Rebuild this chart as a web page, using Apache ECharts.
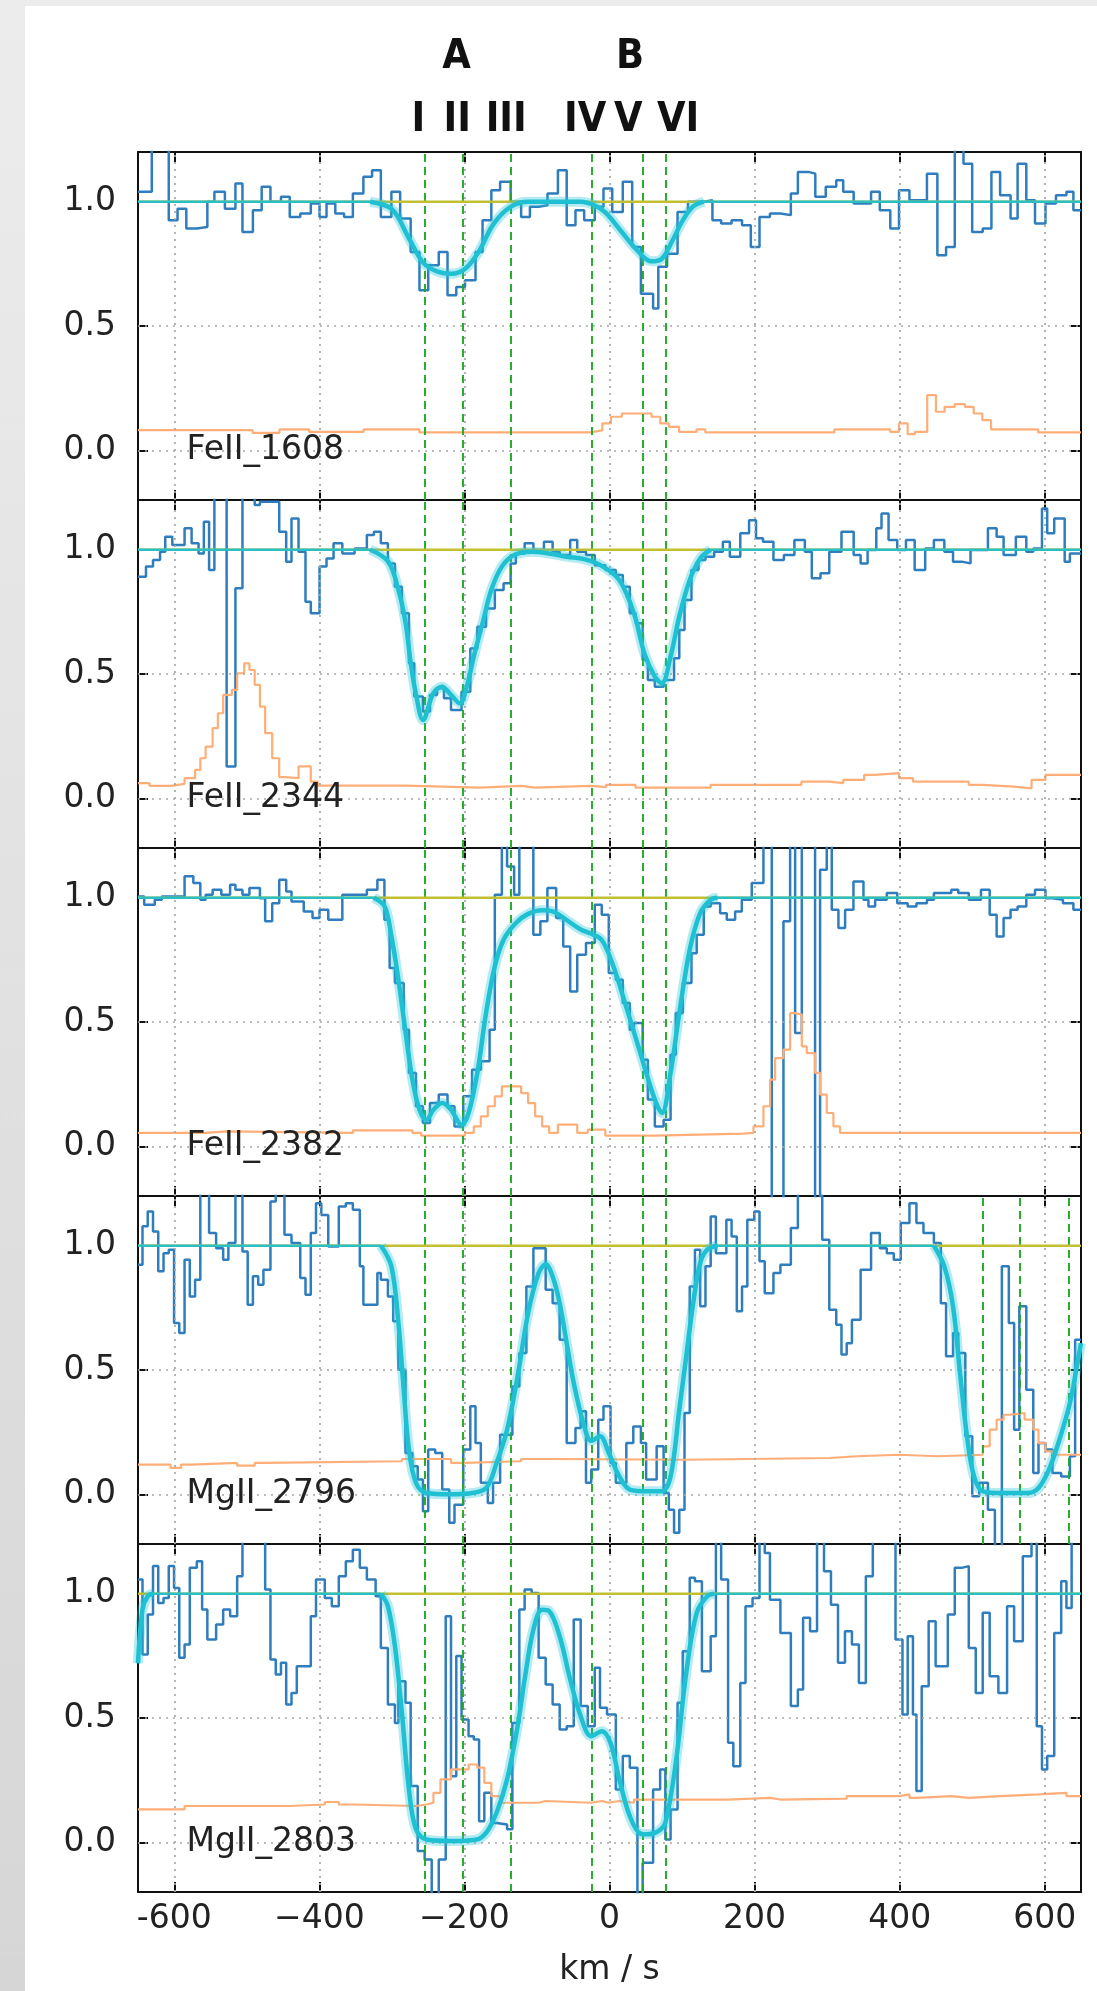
<!DOCTYPE html>
<html>
<head>
<meta charset="utf-8">
<script src="https://cdn.jsdelivr.net/npm/echarts@6/dist/echarts.min.js"></script>
<style>
html,body{margin:0;padding:0;width:1097px;height:1991px;overflow:hidden;background:linear-gradient(#ececec,#d6d6d6);}
#card{position:absolute;left:25px;top:6px;width:1072px;height:1985px;background:#ffffff;}
#chart{position:absolute;left:0;top:0;width:1097px;height:1991px;}
</style>
</head>
<body>
<div id="card"></div>
<div id="chart"></div>
<script>
// ---------------- axes / annotations ----------------
const velMin = -650, velMax = 650;
const fluxMin = -0.2, fluxMax = 1.2;
const xTickValues = [-600, -400, -200, 0, 200, 400, 600];
const xTickLabels = ['-600', '\u2212400', '\u2212200', '0', '200', '400', '600'];
const yTickValues = [0, 0.5, 1.0];
const componentVel = [-255, -202, -136, -24, 46, 77];
const mg2796ExtraVel = [514, 566, 633];
const groupNames = ['A', 'B'];
const groupVel = [-211, 28.5];
const romanNames = ['I', 'II', 'III', 'IV', 'V', 'VI'];
const romanVel = [-263.6, -209.9, -142.4, -33.5, 25.8, 94.7];
const panelNames = ['FeII_1608', 'FeII_2344', 'FeII_2382', 'MgII_2796', 'MgII_2803'];
const panelNameVel = -583;
const continuum = [[-650, 1.0], [650, 1.0]];

// ---------------- FeII 1608 ----------------
const fe1608Flux = [[-650,1.04],[-631,1.4],[-607.6,0.925],[-595.5,0.972],[-583.4,0.892],[-568.9,0.898],[-554.4,1.0],[-544.7,1.04],[-530.2,0.972],[-515.7,1.073],[-506,0.878],[-491.6,0.966],[-479.5,1.06],[-467.4,1.0],[-452.9,1.02],[-440.8,0.939],[-426.3,0.953],[-411.8,0.993],[-399.7,0.939],[-390.1,0.993],[-378,0.953],[-365.9,0.939],[-353.8,1.033],[-339.3,1.1],[-327.3,1.127],[-315.2,0.939],[-300.7,1.04],[-288.6,0.932],[-274.1,0.798],[-262,0.644],[-249.9,0.744],[-235.4,0.798],[-223.3,0.624],[-211.2,0.657],[-199.2,0.684],[-184.7,0.798],[-175,0.925],[-162.9,1.046],[-150.8,1.08],[-136.3,1.0],[-121.8,0.939],[-109.7,0.98],[-97.7,0.986],[-85.5,1.033],[-71.1,1.127],[-59,0.905],[-46.9,0.966],[-34.9,0.925],[-20.3,0.98],[-8.3,1.053],[3.8,0.959],[18.3,1.08],[31.3,0.818],[43.3,0.63],[60.1,0.57],[67.3,0.738],[79.4,0.791],[93.8,0.959],[108.2,1.0],[129.9,1.006],[141.9,0.925],[153.9,0.912],[168.3,0.925],[182.7,0.905],[194.8,0.818],[206.8,0.939],[221.2,0.953],[235.6,0.946],[250,1.033],[259.7,1.12],[274.1,1.113],[283.7,1.02],[298.1,1.06],[312.6,1.086],[322.2,1.04],[336.6,0.993],[360.6,1.04],[372.6,0.966],[387.1,0.892],[399.1,1.046],[413.5,1.006],[437.6,1.113],[452,0.785],[464,0.818],[476,1.4],[488,1.153],[500,0.878],[514.5,0.892],[526.5,1.12],[538.5,1.026],[552.9,0.932],[562.6,1.153],[574.6,1.006],[586.6,0.912],[601,0.993],[615.5,1.026],[629.9,1.04],[639.5,0.966],[650,0.966]];
const fe1608Err = [[-650,0.081],[-492,0.07],[-455,0.084],[-414,0.074],[-339,0.084],[-262,0.072],[-27,0.08],[-10,0.108],[2,0.135],[17,0.148],[58,0.135],[70,0.108],[82,0.094],[96,0.074],[120,0.084],[132,0.072],[310,0.084],[387,0.074],[399,0.108],[411,0.065],[421,0.074],[438,0.222],[450,0.155],[462,0.175],[476,0.186],[490,0.175],[502,0.148],[514,0.121],[526,0.084],[591,0.072],[650,0.072]];
const fe1608Model = [[-330,1.0],[-300,0.97],[-276,0.85],[-257,0.755],[-238,0.72],[-218,0.71],[-199,0.73],[-180,0.80],[-160,0.91],[-136,0.98],[-112,1.0],[-40,1.0],[-20,0.985],[-5,0.955],[15,0.885],[38,0.805],[58,0.76],[72,0.77],[87,0.845],[101,0.925],[115,0.98],[130,1.0]];
const fe1608Flat = [[-650,1.0],[-330,1.0],null,[130,1.0],[650,1.0]];

// ---------------- FeII 2344 ----------------
const fe2344Flux = [[-650,0.891],[-639,0.932],[-629.3,0.959],[-619.6,0.992],[-612.4,1.052],[-602.7,1.019],[-585.8,1.086],[-576.1,1.026],[-566.5,0.985],[-559.2,1.113],[-552,0.918],[-544.7,1.4],[-527.8,0.128],[-515.7,0.845],[-506,1.4],[-489.1,1.18],[-481.9,1.193],[-455.3,1.072],[-445.7,0.952],[-438.4,1.126],[-428.7,0.992],[-419.1,0.791],[-411.8,0.744],[-399.7,0.932],[-390.1,0.965],[-380.4,1.026],[-368.3,0.985],[-351.4,1.005],[-334.5,1.059],[-324.8,1.072],[-315.2,1.026],[-305.5,0.945],[-295.8,0.851],[-286.2,0.744],[-276.5,0.543],[-269.2,0.409],[-257.2,0.349],[-247.5,0.416],[-237.8,0.443],[-228.2,0.402],[-218.5,0.355],[-204,0.429],[-191.9,0.603],[-182.2,0.69],[-170.2,0.764],[-158.1,0.838],[-146,0.865],[-136.3,0.945],[-129.1,0.985],[-117,1.026],[-104.9,0.999],[-90.4,1.032],[-78.4,0.992],[-68.7,0.979],[-54.2,1.039],[-44.5,0.992],[-32.4,0.979],[-20.3,0.938],[-5.8,0.918],[8.7,0.898],[18.3,0.851],[28,0.744],[36.1,0.704],[45.7,0.556],[52.9,0.476],[62.5,0.449],[74.6,0.476],[89,0.563],[96.2,0.677],[103.4,0.798],[113,0.918],[122.6,0.959],[132.3,0.972],[144.3,0.992],[156.3,1.032],[165.9,0.972],[180.3,1.066],[192.4,1.119],[202,1.046],[211.6,1.032],[226,0.959],[240.4,0.979],[254.9,1.039],[269.3,0.992],[278.9,0.885],[290.9,0.905],[303,0.992],[319.8,1.072],[336.6,0.979],[346.2,0.945],[355.8,0.999],[367.8,1.086],[375,1.146],[384.7,1.039],[396.7,0.999],[408.7,1.039],[420.7,0.918],[435.2,1.005],[447.2,1.039],[461.6,0.992],[473.6,0.952],[485.6,0.945],[497.7,0.999],[521.7,1.086],[533.7,1.052],[543.3,0.979],[560.2,1.052],[574.6,0.992],[584.2,1.005],[596.2,1.166],[603.4,1.066],[613.1,1.126],[627.5,0.952],[634.7,0.985],[650,0.985]];
const fe2344Err = [[-650,0.061],[-634.1,0.05],[-605.1,0.058],[-585.8,0.081],[-571.3,0.114],[-564.1,0.161],[-556.8,0.208],[-547.1,0.282],[-539.9,0.342],[-532.6,0.416],[-520.6,0.436],[-513.3,0.503],[-503.6,0.543],[-496.4,0.516],[-489.1,0.456],[-481.9,0.369],[-474.7,0.262],[-465,0.161],[-455.3,0.085],[-448.1,0.081],[-428.7,0.128],[-411.8,0.067],[-402.2,0.051],[-281.3,0.043],[-179.8,0.05],[-121.8,0.043],[-102.5,0.05],[-25.2,0.045],[-4.8,0.054],[35.7,0.043],[139.5,0.054],[264.5,0.067],[303,0.061],[322.2,0.074],[351,0.094],[365.4,0.101],[399.1,0.081],[418.3,0.067],[495.3,0.054],[514.5,0.047],[557.8,0.04],[581.8,0.074],[601,0.094],[650,0.094]];
const fe2344Model = [[-330,1.0],[-305,0.952],[-291,0.838],[-281,0.704],[-274,0.543],[-267,0.422],[-257,0.315],[-243,0.422],[-231,0.449],[-218.5,0.416],[-206.4,0.382],[-196.8,0.449],[-187.1,0.57],[-175,0.704],[-163,0.838],[-148.4,0.932],[-131.5,0.979],[-107.3,0.992],[-83,0.985],[-59,0.972],[-34.9,0.962],[-10.7,0.935],[13.5,0.878],[33.7,0.744],[48.1,0.583],[62.5,0.489],[72.2,0.463],[84.2,0.57],[96.2,0.731],[110.6,0.878],[125,0.965],[139.5,1.0]];
const fe2344Flat = [[-650,1.0],[-330,1.0],null,[139.5,1.0],[650,1.0]];

// ---------------- FeII 2382 ----------------
const fe2382Flux = [[-650,1.005],[-641.4,0.972],[-626.9,0.992],[-617.2,1.005],[-585.8,1.086],[-573.7,1.059],[-564.1,0.992],[-556.8,1.012],[-547.1,1.032],[-535.1,1.012],[-523,1.052],[-515.7,1.032],[-506,1.012],[-496.4,1.039],[-481.9,0.998],[-474.7,0.905],[-465,0.978],[-455.3,1.072],[-445.7,1.025],[-438.4,0.985],[-421.5,0.945],[-409.4,0.918],[-399.7,0.952],[-387.7,0.911],[-368.3,1.012],[-334.5,1.032],[-320,1.072],[-310.3,0.911],[-303.1,0.717],[-295.8,0.657],[-283.7,0.469],[-276.5,0.295],[-266.8,0.161],[-257.2,0.094],[-247.5,0.174],[-235.4,0.208],[-223.3,0.161],[-213.7,0.08],[-201.6,0.201],[-189.5,0.308],[-177.4,0.342],[-165.3,0.469],[-158.1,1.012],[-148.4,1.4],[-141.2,1.126],[-131.5,1.012],[-124.3,1.4],[-105,0.851],[-95.3,0.905],[-85.6,1.039],[-73.5,0.918],[-63.8,0.804],[-54.2,0.623],[-44.5,0.771],[-32.4,0.818],[-20.3,0.972],[-10.7,0.931],[-1,0.697],[8.7,0.67],[18.3,0.576],[28,0.469],[33.7,0.496],[45.7,0.348],[52.9,0.188],[62.5,0.08],[74.6,0.107],[84.2,0.368],[91.4,0.536],[101,0.657],[113,0.777],[120.2,0.851],[129.9,0.965],[139.5,0.978],[152.5,0.938],[161.7,0.911],[173.2,0.945],[182.4,0.992],[196.1,1.059],[212.2,1.5],[223.7,-0.5],[239.8,0.905],[249,1.5],[255.9,0.456],[265.1,1.5],[283.4,-0.5],[290.3,1.112],[299.5,1.5],[306.4,0.952],[315.6,0.878],[324.8,0.952],[336.3,1.065],[350.1,0.992],[357,0.965],[366.2,0.992],[382.3,1.019],[396.7,0.978],[411.1,0.965],[423.1,0.978],[437.6,0.992],[447.2,1.019],[471.2,1.032],[480.8,1.019],[495.3,0.992],[512.1,1.032],[524.1,0.931],[533.7,0.844],[543.3,0.918],[552.9,0.952],[562.6,0.965],[574.6,1.012],[586.6,1.032],[601,0.998],[610.7,0.992],[625.1,0.978],[639.5,0.952],[650,0.952]];
const fe2382Err = [[-650,0.054],[-556.8,0.06],[-527.8,0.054],[-353.8,0.064],[-271.7,0.054],[-259.6,0.043],[-199.2,0.054],[-187.1,0.08],[-177.4,0.12],[-167.8,0.161],[-158.1,0.201],[-148.4,0.241],[-121.8,0.214],[-112.2,0.174],[-102.5,0.12],[-92.9,0.08],[-83.2,0.054],[-71.1,0.087],[-44.5,0.054],[-30,0.067],[-5.8,0.043],[62.5,0.051],[184.7,0.054],[198.5,0.08],[212.2,0.161],[221.4,0.268],[228.3,0.355],[239.8,0.389],[249,0.536],[255.9,0.53],[265.1,0.402],[272,0.375],[283.4,0.295],[290.3,0.208],[299.5,0.134],[308.7,0.08],[317.8,0.054],[650,0.054]];
const fe2382Model = [[-325,1.0],[-310,0.965],[-300.6,0.844],[-291,0.67],[-281,0.456],[-271.7,0.268],[-262,0.147],[-252.3,0.107],[-242.7,0.147],[-230.6,0.174],[-218.5,0.147],[-204,0.087],[-194.3,0.134],[-182.2,0.295],[-170.2,0.536],[-158.1,0.724],[-146,0.831],[-129.1,0.898],[-112.2,0.935],[-92.9,0.95],[-78.4,0.945],[-59,0.91],[-39.7,0.872],[-25.1,0.855],[-10.7,0.83],[3.8,0.737],[23.2,0.56],[42.5,0.375],[62.5,0.188],[72.2,0.134],[84.2,0.295],[96.2,0.536],[110.6,0.791],[125,0.938],[139.5,0.992],[149,1.0]];
const fe2382Flat = [[-650,1.0],[-325,1.0],null,[149,1.0],[650,1.0]];

// ---------------- MgII 2796 ----------------
const mg2796Flux = [[-650,0.923],[-643.8,1.078],[-636.6,1.138],[-629.3,1.057],[-622.1,0.897],[-614.8,0.97],[-607.6,0.984],[-600.3,0.689],[-593.1,0.649],[-585.8,0.944],[-578.6,0.796],[-571.3,0.863],[-564.1,1.4],[-552,1.051],[-542.3,0.99],[-532.6,0.944],[-525.4,1.011],[-515.7,1.4],[-506,0.977],[-498.8,0.763],[-491.6,0.877],[-484.3,0.843],[-477.1,0.903],[-467.4,1.178],[-460.1,1.4],[-448.1,1.044],[-438.4,1.011],[-426.3,0.87],[-419.1,0.803],[-411.8,1.051],[-404.6,1.171],[-397.3,1.124],[-387.7,0.997],[-373.2,1.158],[-363.5,1.171],[-353.8,1.145],[-344.2,0.917],[-339.3,0.763],[-320,0.89],[-315.2,0.863],[-305.5,0.796],[-298.2,0.696],[-291,0.501],[-281.3,0.166],[-271.7,0.113],[-264.4,0.059],[-257.2,-0.068],[-249.9,0.18],[-240.3,0.166],[-230.6,0.019],[-220.9,-0.115],[-213.7,-0.042],[-201.6,0.18],[-191.9,0.354],[-184.7,0.206],[-177.4,0.046],[-167.8,-0.035],[-160.5,0.046],[-150.8,0.24],[-133.9,0.434],[-124.3,0.568],[-114.6,0.836],[-104.9,0.99],[-88,0.823],[-78.4,0.769],[-68.7,0.622],[-59,0.206],[-46.9,0.267],[-39.7,0.334],[-32.4,0.046],[-25.2,0.1],[-15.5,0.3],[-8.3,0.354],[1.4,0.126],[8.7,0.046],[23.2,0.206],[32.8,0.273],[43.3,0.206],[50.5,0.059],[65,0.193],[74.6,0.005],[81.8,-0.062],[89,-0.155],[96.2,-0.062],[103.4,0.327],[110.6,0.836],[117.8,0.984],[125,0.756],[132.3,0.917],[139.5,1.118],[146.7,0.97],[161.1,1.104],[168.3,1.037],[175.5,0.736],[182.7,0.836],[190,1.104],[199.6,1.138],[206.8,0.937],[214,0.809],[226,0.89],[235.6,0.923],[250,1.071],[259.7,1.4],[293.3,1.024],[303,0.742],[312.6,0.682],[319.8,0.562],[327,0.608],[334.2,0.702],[346.2,0.903],[360.6,1.051],[372.6,0.99],[382.3,0.97],[391.9,0.944],[401.5,1.091],[413.5,1.171],[423.1,1.091],[432.8,1.051],[447.2,1.011],[456.8,0.769],[464,0.555],[473.6,0.649],[480.8,0.568],[490.5,0.233],[500.1,-0.008],[509.7,0.046],[521.7,-0.062],[531.3,-0.4],[540.9,0.917],[550.5,0.689],[557.8,0.26],[565,0.756],[574.6,0.421],[584.2,0.086],[591.4,0.206],[601,0.18],[610.6,0.086],[622.7,0.072],[634.7,0.153],[641.9,0.622],[650,0.622]];
const mg2796Err = [[-650,0.119],[-605.1,0.106],[-590.6,0.119],[-576.1,0.126],[-513.3,0.115],[-489.1,0.126],[-474.7,0.133],[-286.2,0.142],[-218.5,0.126],[-199.2,0.133],[-121.8,0.142],[-81.7,0.139],[105.8,0.146],[303,0.153],[341.4,0.159],[399.1,0.153],[452,0.159],[514.5,0.193],[524.1,0.26],[533.7,0.3],[543.3,0.32],[552.9,0.327],[572.2,0.3],[584.2,0.26],[591.4,0.206],[601,0.173],[610.6,0.159],[650,0.159]];
const mg2796Model = [[-315,1.0],[-300.7,0.917],[-291,0.689],[-283.7,0.421],[-276.5,0.18],[-266.8,0.046],[-252.3,0.005],[-218.5,0.0],[-194.3,0.003],[-170.2,0.025],[-155.7,0.126],[-141.2,0.26],[-126.7,0.474],[-112.2,0.729],[-97.7,0.89],[-88,0.925],[-78.4,0.876],[-68.7,0.769],[-59,0.608],[-49.3,0.448],[-34.9,0.273],[-25.2,0.215],[-13.1,0.233],[-1,0.166],[13.5,0.072],[28,0.019],[52.9,0.012],[72.2,0.012],[84.2,0.072],[96.2,0.34],[105.8,0.555],[115.4,0.769],[125,0.93],[134.7,0.984],[149,1.0],null,[447.2,1.0],[461.6,0.917],[473.6,0.756],[483.2,0.488],[492.8,0.233],[502.5,0.072],[514.5,0.012],[543.3,0.005],[577,0.005],[591.4,0.025],[605.8,0.099],[620.3,0.22],[634.7,0.367],[644.3,0.515],[650,0.608]];
const mg2796Flat = [[-650,1.0],[-315,1.0],null,[149,1.0],[447.2,1.0]];

// ---------------- MgII 2803 ----------------
const mg2803Flux = [[-650,1.057],[-643.8,0.755],[-636.6,0.916],[-629.3,1.111],[-622.1,0.963],[-614.8,0.983],[-607.6,1.111],[-600.3,1.023],[-593.1,0.742],[-585.8,0.796],[-578.6,1.104],[-568.9,1.131],[-561.6,0.936],[-554.4,0.816],[-542.3,0.876],[-532.6,0.936],[-523,0.909],[-513.3,1.07],[-506,1.4],[-474.7,1.017],[-467.4,0.735],[-460.1,0.675],[-452.9,0.722],[-445.7,0.554],[-438.4,0.601],[-431.1,0.708],[-411.8,0.909],[-404.6,1.057],[-392.5,0.983],[-382.8,0.95],[-373.2,1.07],[-363.5,1.131],[-353.8,1.177],[-344.2,1.104],[-334.5,1.057],[-322.4,0.99],[-315.2,0.782],[-305.5,0.554],[-295.8,0.48],[-291,0.648],[-281.3,0.561],[-274.1,0.226],[-264.4,-0.035],[-254.8,-0.069],[-245.1,-0.4],[-235.4,-0.069],[-225.8,0.909],[-218.5,0.266],[-211.2,0.749],[-204,0.494],[-194.3,0.427],[-187.1,0.414],[-179.8,0.085],[-172.6,0.199],[-162.9,0.078],[-155.7,0.072],[-141.2,0.052],[-133.9,0.48],[-124.3,0.936],[-117,1.017],[-107.3,1.003],[-97.7,0.742],[-88,0.635],[-78.4,0.554],[-68.7,0.454],[-59,0.467],[-49.3,0.896],[-39.7,0.548],[-30,0.467],[-20.3,0.702],[-13.1,0.541],[-3.4,0.514],[8.7,0.212],[18.3,0.347],[28,0.3],[38.5,-0.4],[45.7,-0.082],[60.1,0.212],[69.8,0.293],[77,0.011],[84.2,0.132],[93.8,0.561],[101,0.769],[110.6,1.064],[117.8,1.05],[127.4,0.688],[139.5,0.829],[146.7,1.4],[153.9,1.057],[163.5,0.4],[170.7,0.306],[180.3,0.641],[187.5,0.95],[197.2,0.983],[206.8,1.4],[214,1.164],[221.2,0.976],[235.6,0.842],[250,0.548],[259.7,0.615],[266.9,0.903],[276.5,0.849],[286.1,1.4],[295.7,1.09],[305.3,0.956],[315,0.722],[324.6,0.849],[334.2,0.796],[343.8,0.641],[353.4,1.07],[363,1.4],[394.3,0.816],[403.9,0.514],[411.1,0.829],[418.3,0.514],[423.1,0.206],[430.4,0.628],[440,0.889],[449.6,0.708],[466.4,0.916],[476,1.104],[485.6,1.111],[495.3,0.782],[504.9,0.601],[514.5,0.923],[524.1,0.668],[536.1,0.601],[548.1,0.95],[557.8,0.809],[569.8,1.151],[581.8,1.4],[589,0.467],[596.2,0.293],[603.4,0.347],[613.1,0.842],[622.7,1.05],[629.9,0.943],[637.1,1.4],[650,1.4]];
const mg2803Err = [[-650,0.132],[-585.8,0.146],[-440.8,0.152],[-392.5,0.162],[-373.2,0.152],[-353.8,0.146],[-266.8,0.152],[-252.3,0.159],[-242.7,0.199],[-233,0.253],[-218.5,0.293],[-194.3,0.313],[-182.2,0.3],[-172.6,0.239],[-162.9,0.186],[-150.8,0.159],[-97.7,0.166],[-88,0.159],[-25.2,0.166],[-10.7,0.159],[-1,0.166],[13.5,0.159],[33.7,0.172],[163.5,0.179],[221.2,0.172],[235.6,0.176],[327,0.186],[399.1,0.193],[413.5,0.179],[423.1,0.186],[471.2,0.179],[495.3,0.186],[538.5,0.193],[591.4,0.199],[629.9,0.186],[650,0.186]];
const mg2803Model = [[-650,0.72],[-643.8,0.936],[-636.6,0.99],[-629,1.0],null,[-315,1.0],[-305.5,0.95],[-295.8,0.789],[-286.2,0.521],[-276.5,0.212],[-266.8,0.052],[-252.3,0.011],[-218.5,0.005],[-184.7,0.01],[-170.2,0.038],[-155.7,0.119],[-141.2,0.253],[-126.7,0.467],[-117,0.655],[-104.9,0.856],[-92.9,0.935],[-83.2,0.93],[-68.7,0.829],[-54.2,0.655],[-39.7,0.507],[-25.2,0.427],[-10.7,0.447],[1.4,0.4],[13.5,0.253],[28,0.105],[42.5,0.035],[52.9,0.032],[67.3,0.045],[77,0.079],[91.4,0.32],[105.8,0.682],[120.2,0.923],[134.7,0.99],[144.3,1.0]];
const mg2803Flat = [[-629,1.0],[-315,1.0],null,[144.3,1.0],[650,1.0]];

const panels = [
  { name: panelNames[0], flux: fe1608Flux, err: fe1608Err, model: fe1608Model, flat: fe1608Flat, extra: [] },
  { name: panelNames[1], flux: fe2344Flux, err: fe2344Err, model: fe2344Model, flat: fe2344Flat, extra: [] },
  { name: panelNames[2], flux: fe2382Flux, err: fe2382Err, model: fe2382Model, flat: fe2382Flat, extra: [] },
  { name: panelNames[3], flux: mg2796Flux, err: mg2796Err, model: mg2796Model, flat: mg2796Flat, extra: mg2796ExtraVel },
  { name: panelNames[4], flux: mg2803Flux, err: mg2803Err, model: mg2803Model, flat: mg2803Flat, extra: [] }
];

// ---------------- layout / style ----------------
const FONT = "'DejaVu Sans', 'Noto Sans', sans-serif";
const PANEL_TOP = 152, PANEL_H = 348, GRID_LEFT = 138, GRID_RIGHT = 16;
const C_BLUE = '#2f7dbd', C_ORANGE = '#ffae78', C_OLIVE = '#c2bf30', C_CYAN = '#1fc0d2', C_GREEN = '#1faa24', C_GRID = '#a8a8a8';

const chart = echarts.init(document.getElementById('chart'), null, { renderer: 'canvas' });

const grids = [], xAxes = [], yAxes = [], series = [];
const axisLineStyle = { color: '#111', width: 2 };
panels.forEach((p, i) => {
  const last = i === panels.length - 1;
  grids.push({ left: GRID_LEFT, right: GRID_RIGHT, top: PANEL_TOP + PANEL_H * i, height: PANEL_H, containLabel: false });
  xAxes.push({
    gridIndex: i, type: 'value', min: velMin, max: velMax, position: 'bottom',
    axisLine: { show: true, onZero: false, lineStyle: axisLineStyle },
    axisTick: { show: true, inside: true, length: 10, customValues: xTickValues, lineStyle: { color: '#111', width: 2 } },
    axisLabel: { show: last, customValues: xTickValues, margin: 11, fontSize: 33, color: '#222', fontFamily: FONT,
      formatter: v => xTickLabels[xTickValues.indexOf(Math.round(v))] },
    splitLine: { show: false },
    name: last ? 'km / s' : '', nameLocation: 'middle', nameGap: 62,
    nameTextStyle: { fontSize: 33, color: '#222', fontFamily: FONT }
  });
  xAxes.push({
    gridIndex: i, type: 'value', min: velMin, max: velMax, position: 'top',
    axisLine: { show: true, onZero: false, lineStyle: axisLineStyle },
    axisTick: { show: true, inside: true, length: 10, customValues: xTickValues, lineStyle: { color: '#111', width: 2 } },
    axisLabel: { show: false }, splitLine: { show: false }
  });
  yAxes.push({
    gridIndex: i, type: 'value', min: fluxMin, max: fluxMax, position: 'left',
    axisLine: { show: true, onZero: false, lineStyle: axisLineStyle },
    axisTick: { show: true, inside: true, length: 10, customValues: yTickValues, lineStyle: { color: '#111', width: 2 } },
    axisLabel: { show: true, customValues: yTickValues, margin: 22, fontSize: 33, color: '#222', fontFamily: FONT,
      padding: [0, 0, 26, 0], formatter: v => Number(v).toFixed(1) },
    splitLine: { show: false }
  });
  yAxes.push({
    gridIndex: i, type: 'value', min: fluxMin, max: fluxMax, position: 'right',
    axisLine: { show: true, onZero: false, lineStyle: axisLineStyle },
    axisTick: { show: true, inside: true, length: 10, customValues: yTickValues, lineStyle: { color: '#111', width: 2 } },
    axisLabel: { show: false }, splitLine: { show: false }
  });

  const xi = 2 * i, yi = 2 * i;
  series.push({
    type: 'line', xAxisIndex: xi, yAxisIndex: yi, data: [], z: 1, silent: true,
    markLine: { silent: true, symbol: ['none', 'none'], label: { show: false }, animation: false,
      lineStyle: { color: C_GRID, type: [2, 5], width: 1.7 },
      data: xTickValues.map(v => ({ xAxis: v })).concat(yTickValues.map(v => ({ yAxis: v }))) }
  });
  series.push({ type: 'line', xAxisIndex: xi, yAxisIndex: yi, data: p.flux, step: 'end', symbol: 'none', z: 3,
    lineStyle: { color: C_BLUE, width: 2.5 }, clip: true });
  series.push({ type: 'line', xAxisIndex: xi, yAxisIndex: yi, data: p.err, step: 'end', symbol: 'none', z: 4,
    lineStyle: { color: C_ORANGE, width: 2.2 }, clip: true });
  series.push({ type: 'line', xAxisIndex: xi, yAxisIndex: yi, data: continuum, symbol: 'none', z: 5,
    lineStyle: { color: C_OLIVE, width: 2.6 } });
  series.push({ type: 'line', xAxisIndex: xi, yAxisIndex: yi, data: p.flat, symbol: 'none', z: 6, connectNulls: false,
    lineStyle: { color: '#2bbfc4', width: 2.6 } });
  series.push({ type: 'line', xAxisIndex: xi, yAxisIndex: yi, data: p.model, symbol: 'none', z: 6, smooth: 0.35, connectNulls: false,
    lineStyle: { color: 'rgba(40,195,215,0.35)', width: 10 }, clip: true });
  series.push({ type: 'line', xAxisIndex: xi, yAxisIndex: yi, data: p.model, symbol: 'none', z: 7, smooth: 0.35, connectNulls: false,
    lineStyle: { color: C_CYAN, width: 4.5 }, clip: true });
  series.push({
    type: 'line', xAxisIndex: xi, yAxisIndex: yi, data: [], z: 9, silent: true,
    markLine: { silent: true, symbol: ['none', 'none'], label: { show: false }, animation: false,
      lineStyle: { color: C_GREEN, type: [8, 5], width: 1.9 },
      data: componentVel.concat(p.extra).map(v => ({ xAxis: v })) }
  });
});

chart.setOption({
  animation: false,
  backgroundColor: 'transparent',
  textStyle: { fontFamily: FONT },
  grid: grids, xAxis: xAxes, yAxis: yAxes, series: series
});

// ---------------- text annotations ----------------
const graphics = [];
const topFont = "bold 41px 'Liberation Sans Narrow', 'DejaVu Sans Condensed', 'Liberation Sans', sans-serif";
groupNames.forEach((t, k) => {
  const px = chart.convertToPixel({ xAxisIndex: 0 }, groupVel[k]);
  graphics.push({ type: 'text', x: px, y: 57, z: 20,
    style: { text: t, font: topFont, fill: '#111', align: 'center', verticalAlign: 'middle', textAlign: 'center', textVerticalAlign: 'middle' } });
});
romanNames.forEach((t, k) => {
  const px = chart.convertToPixel({ xAxisIndex: 0 }, romanVel[k]);
  graphics.push({ type: 'text', x: px, y: 120, z: 20,
    style: { text: t, font: topFont, fill: '#111', align: 'center', verticalAlign: 'middle', textAlign: 'center', textVerticalAlign: 'middle' } });
});
panels.forEach((p, i) => {
  const pt = chart.convertToPixel({ xAxisIndex: 2 * i, yAxisIndex: 2 * i }, [panelNameVel, 0]);
  graphics.push({ type: 'text', x: pt[0], y: pt[1], z: 20,
    style: { text: p.name, font: "33px 'DejaVu Sans', sans-serif", fill: '#222', align: 'left', verticalAlign: 'middle', textAlign: 'left', textVerticalAlign: 'middle' } });
});
chart.setOption({ graphic: graphics });
</script>
</body>
</html>
